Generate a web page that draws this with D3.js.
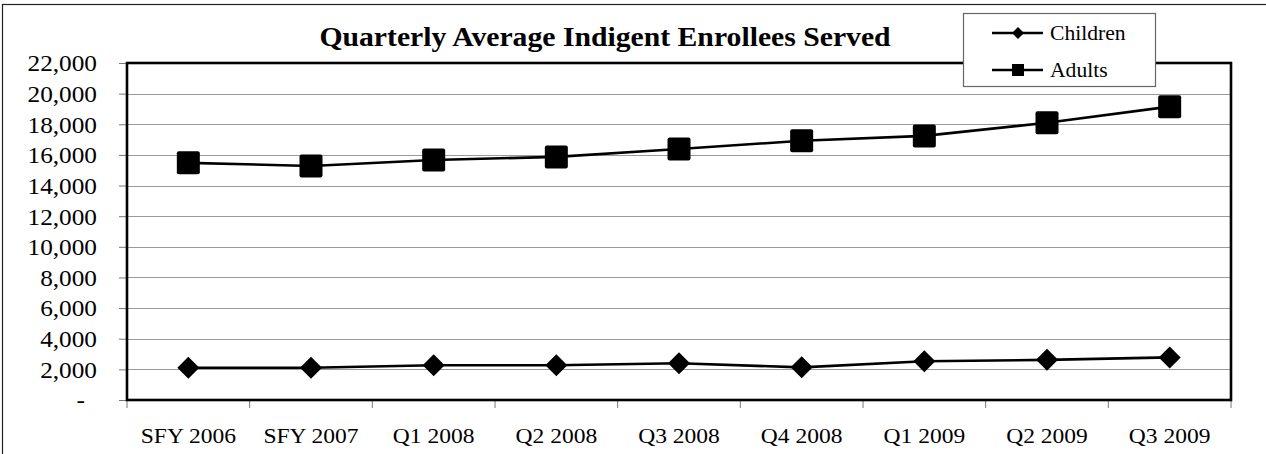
<!DOCTYPE html>
<html>
<head>
<meta charset="utf-8">
<script src="https://cdn.jsdelivr.net/npm/d3@7"></script>
<style>
html,body{margin:0;padding:0;background:#fff;}
svg{display:block;}
text{font-family:"Liberation Serif","Times New Roman",serif;fill:#000;}
</style>
</head>
<body>
<svg id="chart" width="1266" height="454"></svg>
<script>
const categories = ["SFY 2006","SFY 2007","Q1 2008","Q2 2008","Q3 2008","Q4 2008","Q1 2009","Q2 2009","Q3 2009"];
const childrenValues = [2110, 2110, 2270, 2270, 2400, 2130, 2530, 2620, 2780];
const adultsValues = [15480, 15280, 15670, 15870, 16390, 16920, 17240, 18100, 19150];
const yTicks = [0,2000,4000,6000,8000,10000,12000,14000,16000,18000,20000,22000];
const seriesNames = ["Children","Adults"];
const titleText = "Quarterly Average Indigent Enrollees Served";

const svg = d3.select("#chart");
const W = 1266, H = 454;
const m = {left:127, right:1231, top:63, bottom:400};
const SX = 1.1; // horizontal text stretch seen in the reference

svg.append("rect").attr("width",W).attr("height",H).attr("fill","#fff");
// outer frame (left & top visible)
svg.append("rect").attr("x",2.5).attr("y",4.5).attr("width",W+10).attr("height",H+10)
  .attr("fill","none").attr("stroke","#222").attr("stroke-width",1.2);

const x = d3.scaleBand().domain(categories).range([m.left,m.right]).padding(0);
const y = d3.scaleLinear().domain([0,22000]).range([m.bottom,m.top]);

// gridlines
svg.append("g").selectAll("line").data(yTicks).join("line")
  .attr("x1",m.left).attr("x2",m.right)
  .attr("y1",d=>Math.round(y(d))+0.5).attr("y2",d=>Math.round(y(d))+0.5)
  .attr("stroke","#9a9a9a").attr("stroke-width",1.2);

// y axis
const yAxis = d3.axisLeft(y).tickValues(yTicks).tickSize(8).tickPadding(30)
  .tickFormat(d => d===0 ? "-" : d3.format(",")(d));
const gy = svg.append("g").attr("transform",`translate(${m.left},0)`).call(yAxis);
gy.select(".domain").remove();
gy.selectAll(".tick line").attr("stroke","#777");
gy.selectAll(".tick text").attr("font-size",23).attr("dy","0.34em")
  .attr("x",-30/SX).attr("transform",`scale(${SX},1)`);
gy.selectAll(".tick").filter(d=>d===0).select("text").attr("x",-42/SX);

// x axis: tick marks at band boundaries
const boundaries = categories.map(c=>x(c)).concat([m.right]);
svg.append("g").selectAll("line").data(boundaries).join("line")
  .attr("x1",d=>d).attr("x2",d=>d).attr("y1",m.bottom).attr("y2",m.bottom+8)
  .attr("stroke","#777").attr("stroke-width",1);
svg.append("g").selectAll("text").data(categories).join("text")
  .attr("transform",d=>`translate(${x(d)+x.bandwidth()/2},443) scale(1.07,1)`)
  .attr("text-anchor","middle").attr("font-size",22).text(d=>d);

// plot border
svg.append("rect").attr("x",m.left).attr("y",m.top)
  .attr("width",m.right-m.left).attr("height",m.bottom-m.top)
  .attr("fill","none").attr("stroke","#000").attr("stroke-width",2.6);

const cx = d => x(d)+x.bandwidth()/2;
const line = d3.line().x(d=>cx(d.c)).y(d=>y(d.v));

const childData = categories.map((c,i)=>({c, v:childrenValues[i]}));
const adultData = categories.map((c,i)=>({c, v:adultsValues[i]}));

svg.append("path").datum(childData).attr("d",line).attr("fill","none")
  .attr("stroke","#000").attr("stroke-width",2.6);
svg.append("path").datum(adultData).attr("d",line).attr("fill","none")
  .attr("stroke","#000").attr("stroke-width",2.6);

const diamond = (s) => `M0,${-s}L${s},0L0,${s}L${-s},0Z`;
svg.append("g").selectAll("path").data(childData).join("path")
  .attr("transform",d=>`translate(${cx(d.c)},${y(d.v)})`)
  .attr("d",diamond(11)).attr("fill","#000");
svg.append("g").selectAll("rect").data(adultData).join("rect")
  .attr("x",d=>cx(d.c)-11.5).attr("y",d=>y(d.v)-11.5)
  .attr("width",23).attr("height",23).attr("rx",2).attr("fill","#000");

// title
svg.append("text").attr("transform","translate(605,46) scale(1.1,1)").attr("text-anchor","middle")
  .attr("font-size",27).attr("font-weight","bold").text(titleText);

// legend
const lg = svg.append("g");
lg.append("rect").attr("x",963.5).attr("y",13.5).attr("width",192).attr("height",73)
  .attr("fill","#fff").attr("stroke","#666").attr("stroke-width",1.2);
const rows = [{name:seriesNames[0], y:33, shape:"d"},{name:seriesNames[1], y:70, shape:"s"}];
rows.forEach(r=>{
  lg.append("line").attr("x1",992).attr("x2",1043).attr("y1",r.y).attr("y2",r.y)
    .attr("stroke","#000").attr("stroke-width",2.4);
  if(r.shape==="d"){
    lg.append("path").attr("transform",`translate(1018,${r.y})`).attr("d",diamond(6)).attr("fill","#000");
  } else {
    lg.append("rect").attr("x",1012).attr("y",r.y-6).attr("width",12).attr("height",12).attr("fill","#000");
  }
  lg.append("text").attr("transform",`translate(1050,${r.y}) scale(1.03,1)`).attr("dy","0.34em")
    .attr("font-size",21).text(r.name);
});
</script>
</body>
</html>
